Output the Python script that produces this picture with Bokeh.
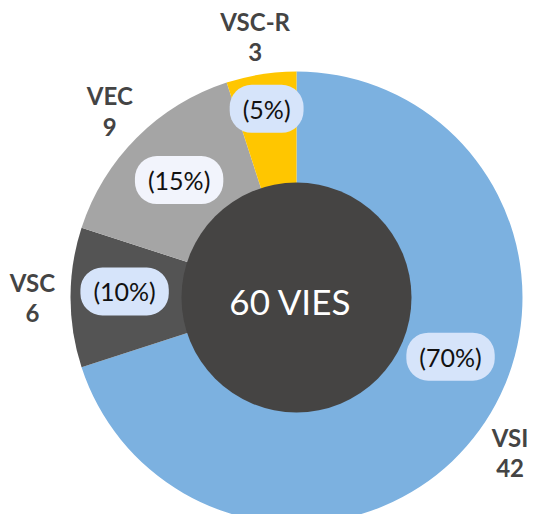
import math
from bokeh.plotting import figure
from bokeh.models import ColumnDataSource, Range1d
from bokeh.core.properties import value
from bokeh.embed import file_html
from bokeh.resources import INLINE

categories = ["VSI", "VSC", "VEC", "VSC-R"]
counts = [42, 6, 9, 3]
percent_labels = ["(70%)", "(10%)", "(15%)", "(5%)"]
center_label = "60 VIES"

colors = ["#7cb1e0", "#545454", "#a5a5a5", "#ffc600"]
pill_colors = ["#d6e4fa", "#d6e4fa", "#f2f4fc", "#d6e4fa"]

# layout
W, H = 527, 514
CX, CY = 296, 297  # centre of the donut, pixels from figure top-left
R_OUT = 226
R_IN = 115
R_PCT = [165, 172, 166, 191]
PCT_ANGLE_SHIFT = [15, -2, 0, 0]  # degrees, label position tweak
R_LAB = 264
FONT = "Lato"

total = sum(counts)
starts, ends, mids = [], [], []
cum = 0
for c in counts:
    s = math.pi / 2 - 2 * math.pi * cum / total
    cum += c
    e = math.pi / 2 - 2 * math.pi * cum / total
    starts.append(s)
    ends.append(e)
    mids.append((s + e) / 2)

src = ColumnDataSource(dict(start=starts, end=ends, color=colors))

p = figure(width=W, height=H, output_backend="svg", toolbar_location=None,
           x_range=Range1d(-CX, W - CX), y_range=Range1d(CY - H, CY),
           min_border=0)
p.axis.visible = False
p.grid.visible = False
p.outline_line_color = None
p.background_fill_color = "white"
p.border_fill_color = "white"

p.wedge(x=0, y=0, radius=R_OUT, start_angle="start", end_angle="end",
        direction="clock", fill_color="color", line_color=None, source=src)
p.circle(x=[0], y=[0], radius=R_IN, fill_color="#454443", line_color=None)

p.text(x=[-6], y=[-3], text=[center_label], text_color="white",
       text_font=value(FONT), text_font_size="35px",
       text_align="center", text_baseline="middle")

# percentage pills
px, py = [], []
for m, r, sh in zip(mids, R_PCT, PCT_ANGLE_SHIFT):
    a = m + math.radians(sh)
    px.append(r * math.cos(a))
    py.append(r * math.sin(a))
psrc = ColumnDataSource(dict(x=px, y=py, text=percent_labels, bg=pill_colors))
p.text(x="x", y="y", text="text", source=psrc, text_color="#111111",
       text_font=value(FONT), text_font_size="25px",
       text_align="center", text_baseline="middle",
       background_fill_color="bg",
       padding=dict(left=13, right=13, top=9, bottom=9),
       border_radius=22)

# category labels
lx = [R_LAB * math.cos(m) for m in mids]
ly = [R_LAB * math.sin(m) for m in mids]
lab_text = [f"{c}\n{v}" for c, v in zip(categories, counts)]
lsrc = ColumnDataSource(dict(x=lx, y=ly, text=lab_text))
p.text(x="x", y="y", text="text", source=lsrc, text_color="#444444",
       text_font=value(FONT), text_font_size="24px", text_font_style="bold",
       text_align="center", text_baseline="middle", text_line_height=1.05)

open("out.html", "w").write(file_html(p, INLINE))
